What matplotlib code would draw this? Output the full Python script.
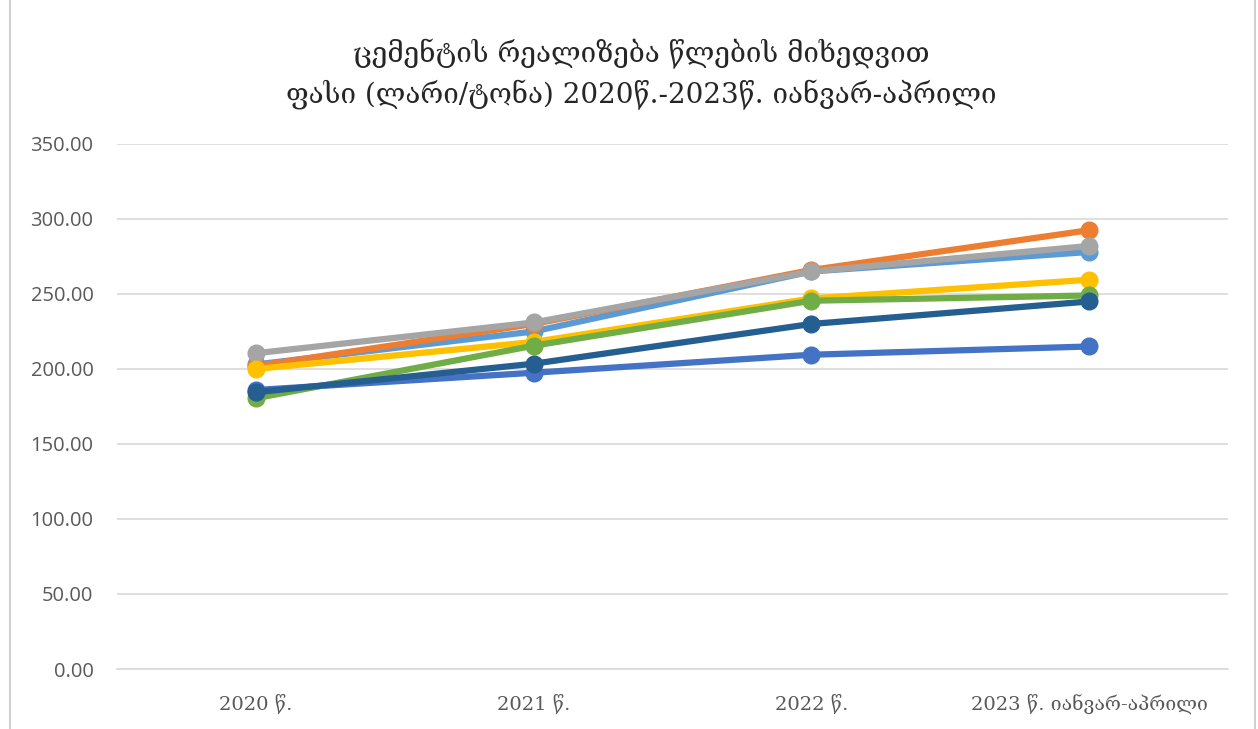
import matplotlib
matplotlib.use("Agg")
import matplotlib.pyplot as plt
from matplotlib.patches import Rectangle

# categories and series values (GEL / tonne)
categories = ["2020 წ.", "2021 წ.", "2022 წ.", "2023 წ. იანვარ-აპრილი"]
series_lightblue = [203.0, 225.0, 265.0, 278.0]
series_orange = [202.0, 230.0, 266.0, 292.5]
series_gray = [210.5, 231.0, 265.0, 282.0]
series_gold = [200.0, 218.0, 247.0, 259.5]
series_blue = [186.0, 197.5, 209.5, 215.0]
series_green = [180.5, 215.5, 245.5, 249.0]
series_darkblue = [184.5, 203.5, 230.0, 245.0]

title = "ცემენტის რეალიზება წლების მიხედვით\nფასი (ლარი/ტონა) 2020წ.-2023წ. იანვარ-აპრილი"

plt.rcParams['font.family'] = ['DejaVu Sans']

fig = plt.figure(figsize=(12.58, 7.29), dpi=100)
ax = fig.add_axes([0.093, 0.0823, 0.883, 0.7202])

x = list(range(len(categories)))
lines = [
    (series_lightblue, "#5B9BD5"),
    (series_orange, "#ED7D31"),
    (series_gray, "#A5A5A5"),
    (series_gold, "#FFC000"),
    (series_blue, "#4472C4"),
    (series_green, "#70AD47"),
    (series_darkblue, "#255E91"),
]
for i, (vals, col) in enumerate(lines):
    ax.plot(x, vals, color=col, lw=4.5, marker='o', ms=12,
            solid_capstyle='round', zorder=3 + i, clip_on=False)

ax.set_xlim(-0.5, len(categories) - 0.5)
ax.set_ylim(0, 350)
ax.set_yticks(range(0, 351, 50))
ax.set_yticklabels([f"{v:.2f}" for v in range(0, 351, 50)], family=['Open Sans', 'DejaVu Sans'])
ax.set_xticks(x)
ax.set_xticklabels(categories, family=['DejaVu Serif', 'DejaVu Sans'])
ax.grid(axis='y', color='#D9D9D9', lw=1.2)
ax.set_axisbelow(True)
for s in ['top', 'right', 'left']:
    ax.spines[s].set_visible(False)
ax.spines['bottom'].set_color('#D9D9D9')
ax.spines['bottom'].set_linewidth(1.2)
ax.tick_params(axis='y', length=0, labelsize=14.5, colors='#595959', pad=17)
ax.tick_params(axis='x', length=0, labelsize=14, colors='#595959', pad=18)

fig.text(0.51, 0.898, title, ha='center', va='center', fontsize=20,
         family=['DejaVu Serif', 'DejaVu Sans'], color='#262626', linespacing=1.45)

fig.patches.append(Rectangle((0.008, -0.01), 0.99, 1.02, transform=fig.transFigure,
                             fill=False, edgecolor='#D0D0D0', lw=1.5))

fig.savefig("out.png", dpi=100)
